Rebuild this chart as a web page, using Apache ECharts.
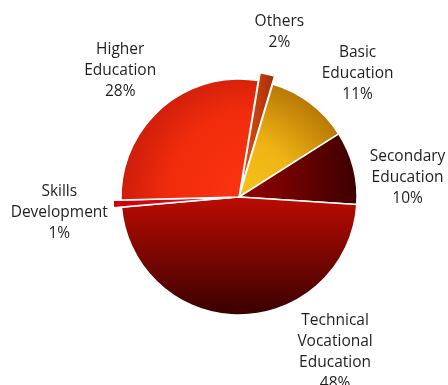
<!DOCTYPE html>
<html><head><meta charset="utf-8">
<script src="https://cdn.jsdelivr.net/npm/echarts@6/dist/echarts.min.js"></script>
<style>html,body{margin:0;padding:0;background:#fff}#c{width:448px;height:385px}</style>
</head><body><div id="c"></div>
<script>
var categories = ['Others', 'Basic\nEducation', 'Secondary\nEducation', 'Technical\nVocational\nEducation', 'Skills\nDevelopment', 'Higher\nEducation'];
var values = [2, 11.4, 10, 47.6, 1, 28];
var exploded = [true, false, false, false, true, false];

function lin(x2, y2, stops) {
  return new echarts.graphic.LinearGradient(0, 0, x2, y2, stops.map(function (s) { return {offset: s[0], color: s[1]}; }));
}
function rad(cx, cy, r, stops) {
  return new echarts.graphic.RadialGradient(cx, cy, r, stops.map(function (s) { return {offset: s[0], color: s[1]}; }));
}
var fills = [
  lin(1, 0, [[0, '#e05412'], [1, '#a82a06']]),
  rad(0, 1, 1.3, [[0, '#f7c21a'], [0.45, '#eeb414'], [1, '#ad6c02']]),
  lin(1, 0, [[0, '#980202'], [1, '#3c0000']]),
  lin(0, 1, [[0, '#bc0c02'], [1, '#380000']]),
  lin(1, 0, [[0, '#c8000c'], [1, '#f01020']]),
  rad(0.95, 0.95, 1.25, [[0, '#fc3410'], [0.55, '#f02c0c'], [1, '#bc160a']])
];
var labelOffsets = [[1, 6], [13, 16], [-1, 24], [94, -20], [-5, 6], [-4, 6]];

var chart = echarts.init(document.getElementById('c'), null, {renderer: 'canvas'});
var center = [239, 197];
chart.setOption({
  animation: false,
  series: [
    {
      type: 'pie',
      center: center,
      radius: 118,
      startAngle: 80.6,
      clockwise: true,
      selectedMode: 'multiple',
      selectedOffset: 8,
      silent: true,
      label: {show: false},
      labelLine: {show: false},
      emphasis: {disabled: true},
      itemStyle: {borderColor: '#ffffff', borderWidth: 1.5},
      data: values.map(function (v, i) {
        return {value: v, name: categories[i], selected: exploded[i], itemStyle: {color: fills[i]}};
      })
    },
    {
      type: 'pie',
      center: center,
      radius: [164, 180],
      startAngle: 80.6,
      clockwise: true,
      silent: true,
      emphasis: {disabled: true},
      itemStyle: {color: 'rgba(0,0,0,0)', borderWidth: 0},
      labelLine: {show: false},
      label: {
        show: true,
        position: 'inside',
        color: '#1f1f1f',
        fontFamily: 'Open Sans',
        fontSize: 15.5,
        lineHeight: 21,
        align: 'center',
        formatter: function (p) { return p.name + '\n' + Math.round(p.percent) + '%'; }
      },
      labelLayout: function (p) {
        return {dx: labelOffsets[p.dataIndex][0], dy: labelOffsets[p.dataIndex][1]};
      },
      data: values.map(function (v, i) { return {value: v, name: categories[i]}; })
    }
  ]
});
</script></body></html>
